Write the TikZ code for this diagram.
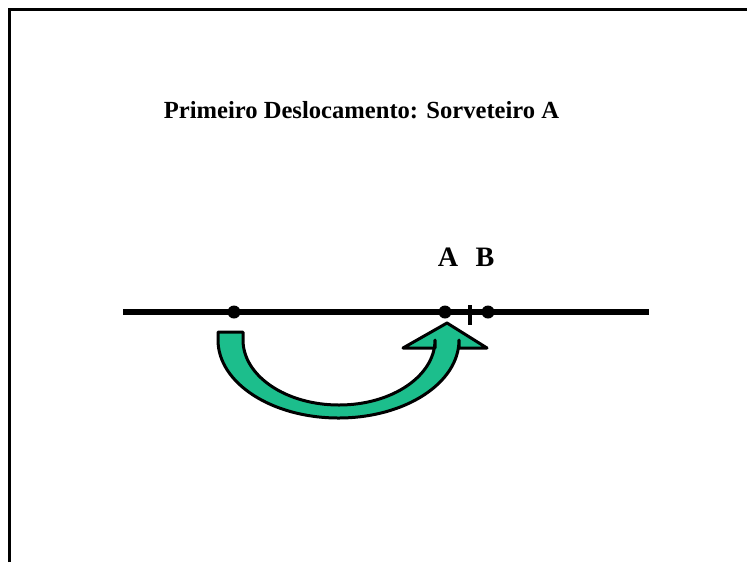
\documentclass[tikz,border=0pt]{standalone}
\usepackage{fontspec}
\setmainfont{Liberation Serif}
\usetikzlibrary{calc}
\definecolor{sorvgreen}{RGB}{28,190,140}

\begin{document}
\begin{tikzpicture}[x=0.02cm, y=0.02cm, dot/.style={circle, fill=black, inner sep=0pt, minimum size=0.26cm}, lbl/.style={font=\fontsize{16}{18}\selectfont\bfseries, inner sep=0pt}]
\useasboundingbox (0,0) rectangle (747,-562);
\draw[line width=0.07cm] (9.5,-562) -- (9.5,-9.5) -- (747,-9.5);
\node (title) at (361.5,-110) {\fontsize{14}{16}\selectfont\bfseries Primeiro Deslocamento: Sorveteiro A};
\coordinate (left) at (123,-312);
\coordinate (right) at (649,-312);
\draw[line width=0.13cm] (left) -- (right);
\node[dot] (p0) at (234,-312) {};
\node[dot] (pA) at (445,-312) {};
\node[dot] (pB) at (488,-312) {};
\node[lbl] (A) at (448,-257) {A};
\node[lbl] (B) at (485,-257) {B};
\coordinate (tick1) at (470,-305);
\coordinate (tick2) at (470,-325);
\draw[line width=0.07cm] (tick1) -- (tick2);
\filldraw[fill=sorvgreen, draw=black, line width=0.06cm, line join=round] (218,-332) -- (218,-340) arc[start angle=180, end angle=360, x radius=120.5, y radius=78] -- (459,-348) -- (487,-348) -- (447,-323) -- (403,-348) -- (435,-348) -- (435,-340) arc[start angle=0, end angle=-180, x radius=96, y radius=65] -- (243,-332) -- cycle;
\end{tikzpicture}
\end{document}
